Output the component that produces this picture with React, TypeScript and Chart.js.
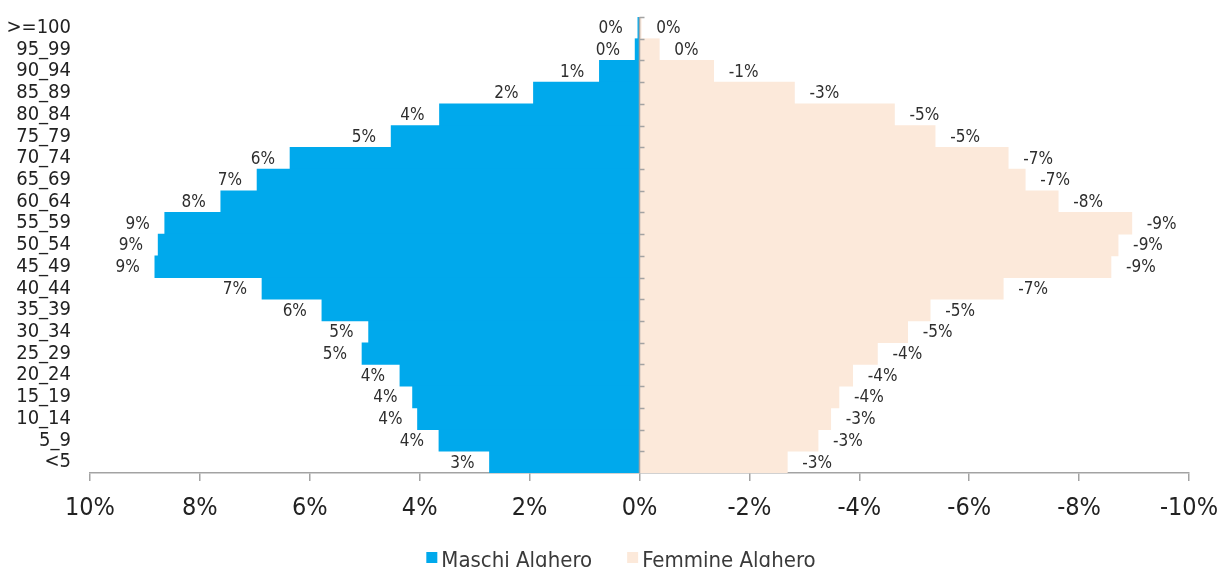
import React, { useEffect, useRef } from "react";
import { Chart, registerables } from "chart.js";

Chart.register(...registerables);

// Age classes, from the oldest (top) to the youngest (bottom)
const ageClasses = [
  ">=100", "95_99", "90_94", "85_89", "80_84", "75_79", "70_74", "65_69",
  "60_64", "55_59", "50_54", "45_49", "40_44", "35_39", "30_34", "25_29",
  "20_24", "15_19", "10_14", "5_9", "<5",
];

// Share of the male population in each age class (%)
const maschi = [
  0.03, 0.08, 0.73, 1.93, 3.64, 4.52, 6.36, 6.96, 7.62, 8.64, 8.76, 8.82,
  6.87, 5.78, 4.93, 5.05, 4.36, 4.13, 4.04, 3.65, 2.73,
];

// Share of the female population in each age class (%), negative side of the pyramid
const femmine = [
  -0.03, -0.36, -1.35, -2.82, -4.64, -5.38, -6.71, -7.02, -7.62, -8.96, -8.71,
  -8.58, -6.62, -5.29, -4.88, -4.33, -3.88, -3.63, -3.48, -3.25, -2.69,
];

const xTickStep = 2;
const xMin = -10;
const xMax = 10;

const seriesNames = ["Maschi Alghero", "Femmine Alghero"];
const BLUE = "#00A9EC";
const PEACH = "#FCE9DA";
const AXIS = "#a3a3a3";
const FONT = "'DejaVu Sans Condensed', 'DejaVu Sans', sans-serif";
const NARROW = "'Liberation Sans Narrow', 'DejaVu Sans Condensed', sans-serif";

const fmtPct = (v: number) => `${Math.round(v) === 0 ? 0 : Math.round(v)}%`;

// Vertical axis line at 0 with small marks between the age classes
const centerAxisPlugin = {
  id: "centerAxis",
  afterDatasetsDraw(chart: any) {
    const { ctx, chartArea, scales } = chart;
    const x0 = scales.x.getPixelForValue(0);
    const n = ageClasses.length;
    const h = (chartArea.bottom - chartArea.top) / n;
    ctx.save();
    ctx.strokeStyle = AXIS;
    ctx.lineWidth = 1.5;
    ctx.beginPath();
    ctx.moveTo(x0, chartArea.top);
    ctx.lineTo(x0, chartArea.bottom);
    for (let i = 0; i < n; i++) {
      const y = Math.round(chartArea.top + i * h) + 0.5;
      ctx.moveTo(x0, y);
      ctx.lineTo(x0 + 5, y);
    }
    ctx.stroke();
    ctx.restore();
  },
};

// Percent labels placed just outside the end of each bar
const barLabelPlugin = {
  id: "barLabels",
  afterDatasetsDraw(chart: any) {
    const { ctx } = chart;
    ctx.save();
    ctx.font = `17px ${FONT}`;
    ctx.fillStyle = "#2e2e2e";
    ctx.textBaseline = "middle";
    chart.data.datasets.forEach((ds: any, di: number) => {
      const meta = chart.getDatasetMeta(di);
      meta.data.forEach((el: any, i: number) => {
        const v = ds.data[i];
        const male = di === 0;
        ctx.textAlign = male ? "right" : "left";
        const x = male ? el.x - 15 : el.x + 15;
        ctx.fillText(fmtPct(v), x, el.y + 1);
      });
    });
    ctx.restore();
  },
};

// Legend row at the bottom of the canvas
const legendPlugin = {
  id: "bottomLegend",
  afterDraw(chart: any) {
    const { ctx } = chart;
    const colors = [BLUE, PEACH];
    const box = 11;
    const gapBox = 4;
    const gapItem = 35;
    ctx.save();
    ctx.font = `22px ${FONT}`;
    const widths = seriesNames.map((s) => ctx.measureText(s).width);
    const total =
      widths.reduce((a, w) => a + box + gapBox + w, 0) + gapItem * (seriesNames.length - 1);
    let x = 621 - total / 2;
    const baseline = 567;
    ctx.textBaseline = "alphabetic";
    ctx.textAlign = "left";
    seriesNames.forEach((s, i) => {
      ctx.fillStyle = colors[i];
      ctx.fillRect(x, baseline - 15, box, box);
      x += box + gapBox;
      ctx.fillStyle = "#3a3a3a";
      ctx.fillText(s, x, baseline);
      x += widths[i] + gapItem;
    });
    ctx.restore();
  },
};

export default function App() {
  const canvasRef = useRef<HTMLCanvasElement | null>(null);

  useEffect(() => {
    if (!canvasRef.current) return;
    const chart = new Chart(canvasRef.current, {
      type: "bar",
      data: {
        labels: ageClasses,
        datasets: [
          {
            label: seriesNames[0],
            data: maschi,
            backgroundColor: BLUE,
            borderWidth: 0,
            barPercentage: 1,
            categoryPercentage: 1,
          },
          {
            label: seriesNames[1],
            data: femmine,
            backgroundColor: PEACH,
            borderWidth: 0,
            barPercentage: 1,
            categoryPercentage: 1,
          },
        ],
      },
      options: {
        indexAxis: "y",
        responsive: false,
        animation: false,
        layout: { padding: { top: 17, right: 30, left: 0, bottom: 0 } },
        plugins: {
          legend: { display: false },
          tooltip: { enabled: false },
        },
        scales: {
          x: {
            type: "linear",
            min: xMin,
            max: xMax,
            reverse: true,
            stacked: true,
            ticks: {
              stepSize: xTickStep,
              callback: (v: any) => `${v}%`,
              font: { family: NARROW, size: 25 },
              color: "#222",
              padding: 12,
              maxRotation: 0,
            },
            grid: {
              drawOnChartArea: false,
              drawTicks: true,
              tickLength: 8,
              color: AXIS,
              lineWidth: 1.5,
            },
            border: { display: true, color: AXIS, width: 1.5 },
            afterFit: (s: any) => {
              s.height = 94;
              s.paddingLeft = 0;
              s.paddingRight = 0;
            },
          },
          y: {
            type: "category",
            stacked: true,
            ticks: {
              font: { family: FONT, size: 20 },
              color: "#222",
              padding: 19,
              autoSkip: false,
            },
            grid: { display: false, drawTicks: false },
            border: { display: false },
            afterFit: (s: any) => {
              s.width = 90;
              s.paddingTop = 0;
              s.paddingBottom = 0;
            },
          },
        },
      } as any,
      plugins: [centerAxisPlugin, barLabelPlugin, legendPlugin],
    });
    return () => chart.destroy();
  }, []);

  return (
    <div style={{ position: "absolute", left: 0, top: 0, width: 1219, height: 567, background: "#fff" }}>
      <canvas ref={canvasRef} width={1219} height={567} style={{ display: "block" }} />
    </div>
  );
}
